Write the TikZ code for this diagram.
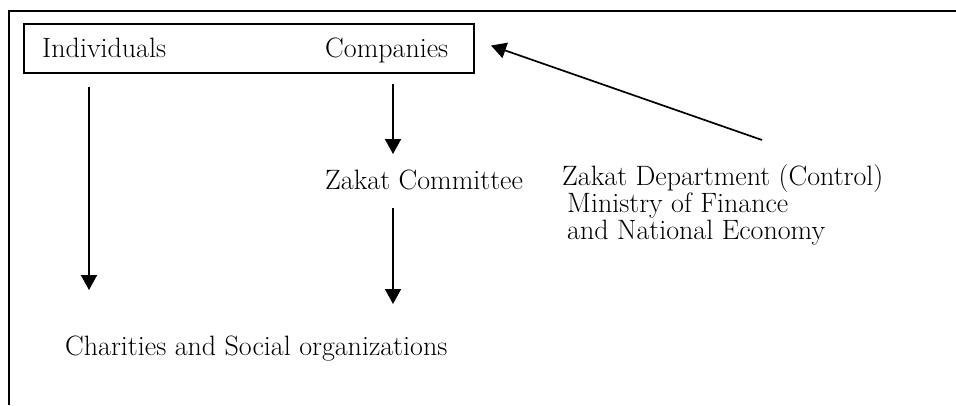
\documentclass[tikz,border=0pt]{standalone}
\usetikzlibrary{arrows.meta}
\tikzset{
  txt/.style={font=\fontsize{28}{25}\selectfont, inner sep=0pt, anchor=base west},
  flow/.style={-{Triangle[length=15pt,width=16pt]}, line width=1.7pt},
}
\begin{document}
\begin{tikzpicture}[x=1pt,y=-1pt]
\useasboundingbox (0,0) rectangle (956,405);
\draw[line width=2pt] (9,405) -- (9,11) -- (956,11);
\node[draw, line width=2pt, minimum width=450pt, minimum height=49pt, inner sep=0pt] (payers) at (249,48.5) {};
\node[txt] (ind) at (42,57) {Individuals};
\node[txt] (comp) at (325,57) {Companies};
\node[txt] (comm) at (325,189) {Zakat Committee};
% base of a multi-line node sits on its last line
\node[txt, align=left] (dept) at (562,239) {Zakat Department (Control)\\
  \hspace*{5pt}Ministry of Finance\\
  \hspace*{5pt}and National Economy};
\node[txt] (char) at (65,355) {Charities and Social organizations};
\coordinate (ind lane) at (89,0);
\coordinate (comp lane) at (393,0);
\coordinate (ctl) at (762,140);
\draw [flow, shorten <=13pt] (payers.south -| ind lane) -- (89,290);
\draw [flow, shorten <=10pt] (payers.south -| comp lane) -- (393,154);
\draw [flow] ([yshift=-19pt]comm.base -| comp lane) -- (393,304);
\draw [flow] (ctl) -- ([shift={(16,-3)}]payers.east);
\end{tikzpicture}
\end{document}
